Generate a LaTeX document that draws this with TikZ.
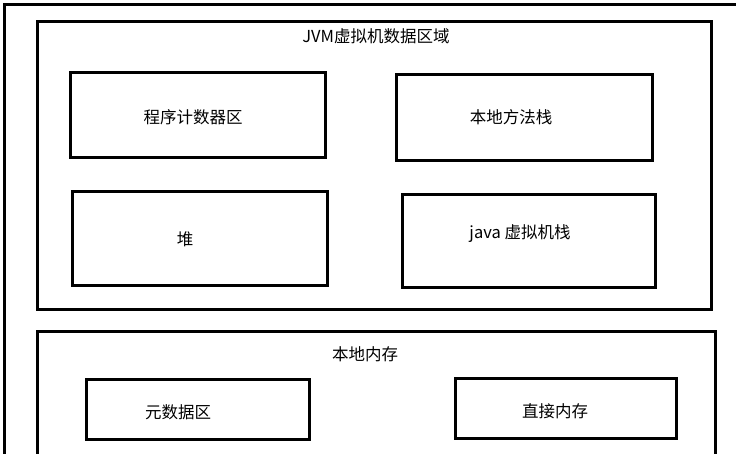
\documentclass[tikz,border=0pt]{standalone}
\usepackage{fontspec}
\setmainfont{Noto Sans CJK SC}
\usetikzlibrary{positioning}
\tikzset{
  area/.style={draw, line width=3pt, rectangle, inner sep=0pt},
  lbl/.style={font=\fontsize{16.5}{20}\selectfont, inner sep=0pt}
}

\begin{document}
\begin{tikzpicture}[x=1pt,y=-1pt]
\useasboundingbox (0,0) rectangle (736,454);
\clip (0,0) rectangle (736,454);
% outer frame (cut off by the page)
\draw[line width=3pt] (4,5) rectangle (800,520);

% JVM data area
\node[area, minimum width=674pt, minimum height=287pt] (jvm) at (374,165.5) {};
\node[lbl] (jvmTitle) at (376,36) {JVM虚拟机数据区域};

\node[area, minimum width=255pt, minimum height=85pt] (pc) at (197.5,115.5) {};
\node[lbl] (pcText) at (193,117) {程序计数器区};
\node[area, minimum width=256pt, minimum height=86pt] (native) at (524,118) {};
\node[lbl] (nativeText) at (511,117) {本地方法栈};
\node[area, minimum width=255pt, minimum height=94pt] (heap) at (199.5,239) {};
\node[lbl] (heapText) at (185,239) {堆};
\node[area, minimum width=253pt, minimum height=93pt] (stack) at (528.5,241.5) {};
\node[lbl] (stackText) at (520,234) {java 虚拟机栈};

% native memory
\draw[line width=3pt] (37,331) rectangle (715,520);
\node[lbl] (nmTitle) at (365,354) {本地内存};

\node[area, minimum width=223pt, minimum height=60pt] (meta) at (197.5,409) {};
\node[lbl] (metaText) at (178,412) {元数据区};
\node[area, minimum width=221pt, minimum height=60pt] (direct) at (565.5,408) {};
\node[lbl] (directText) at (555,411) {直接内存};
\end{tikzpicture}
\end{document}
